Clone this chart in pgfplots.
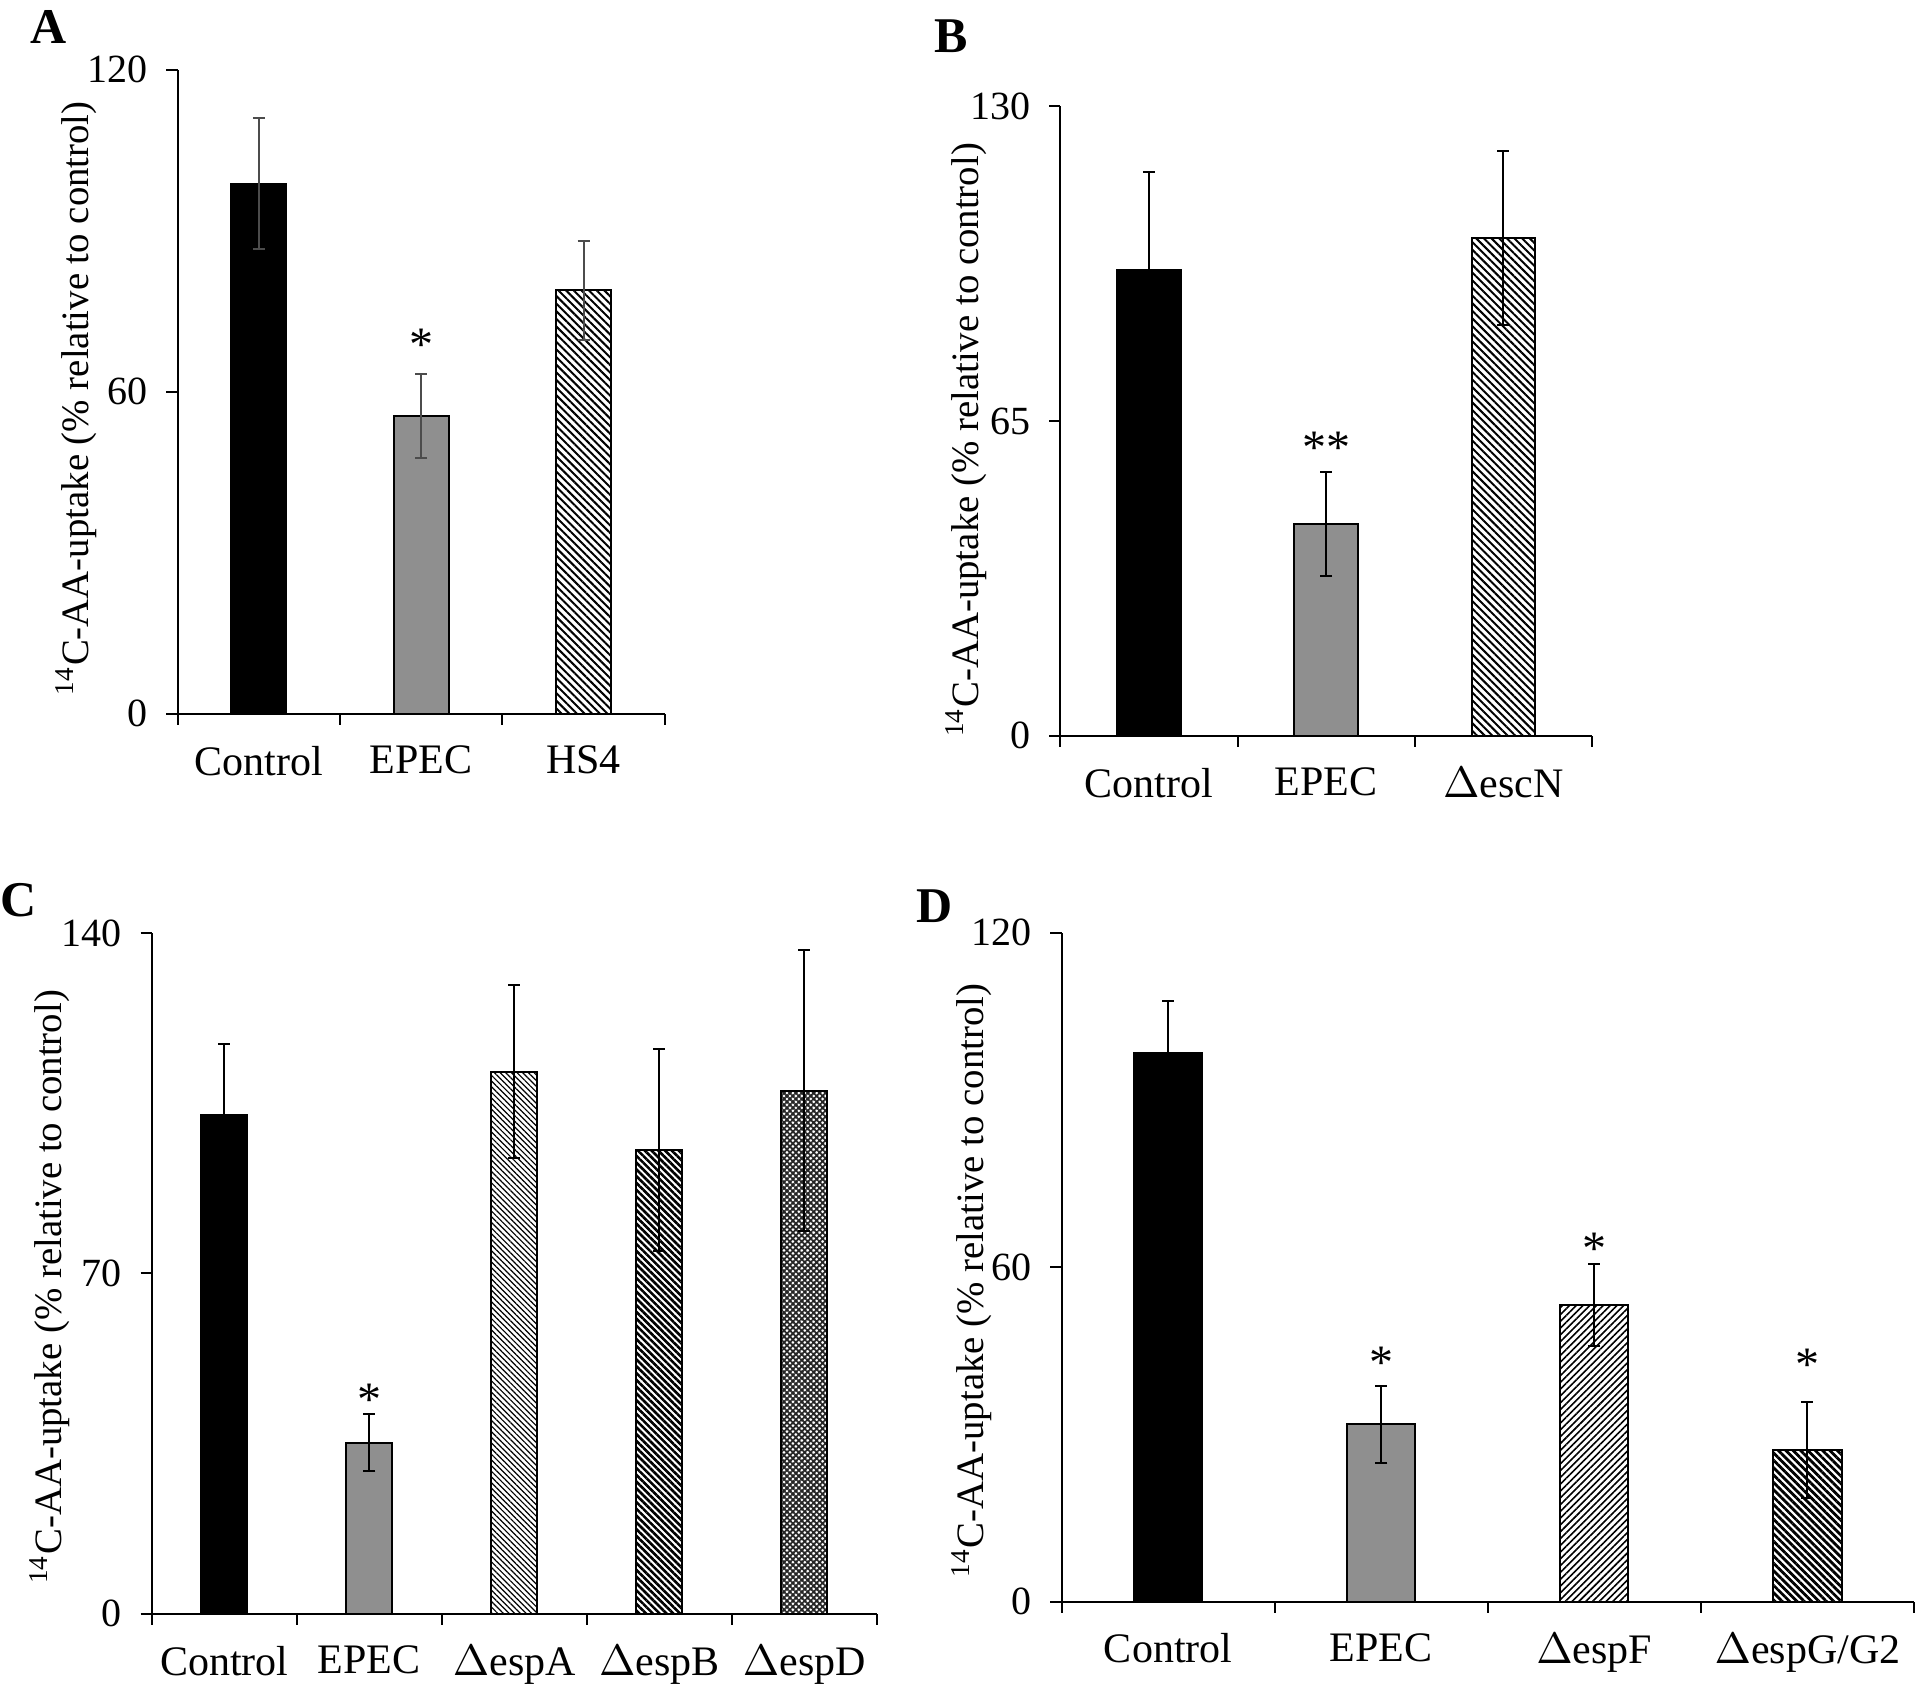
\documentclass[border=0pt]{standalone}
\usepackage{fontspec}
\setmainfont{Liberation Serif}
\usepackage{pgfplots}
\pgfplotsset{compat=1.18}
\usetikzlibrary{patterns.meta}
\definecolor{epec}{HTML}{8F8F8F}
\tikzset{sigstar/.style={font=\fontsize{12}{14}\selectfont, anchor=center, yshift=-1.5pt}}
\pgfplotsset{
  panel/.style={
    scale only axis,
    anchor=south west,
    ybar,
    bar shift=0pt,
    axis lines*=left,
    axis line style={line width=0.5pt},
    ymin=0,
    xticklabels={},
    tick align=outside,
    tick style={line width=0.5pt, black},
    major tick length=2.8pt,
    extra x tick style={major tick length=0pt, xtick style={draw=none},
       xticklabel style={font=\fontsize{10.5}{12}\selectfont, yshift=-4.5pt}},
    /pgf/number format/assume math mode=true,
    yticklabel style={font=\fontsize{10}{12}\selectfont, xshift=-1.2pt},
    ylabel style={font=\fontsize{9.7}{12}\selectfont},
    ylabel={\textsuperscript{14}C-AA-uptake (\% relative to control)},
    every axis plot/.append style={draw=black, line width=0.5pt},
    error bars/y dir=both,
    error bars/y explicit,
    error bars/error mark options={rotate=90, mark size=1.5pt, line width=0.5pt},
    error bars/error bar style={line width=0.5pt},
  },
}
\begin{document}
\begin{tikzpicture}[x=1pt,y=1pt]
\useasboundingbox (0,0) rectangle (480,421.75);
% Panel letters
\node[font=\bfseries\fontsize{12.5}{14}\selectfont] at (12.25,415) {A};
\node[font=\bfseries\fontsize{12.5}{14}\selectfont] at (237.9,412.6) {B};
\node[font=\bfseries\fontsize{12.5}{14}\selectfont] at (4.6,196.75) {C};
\node[font=\bfseries\fontsize{12.5}{14}\selectfont] at (233.6,195.25) {D};

% ---------------- A ----------------
\begin{axis}[panel, at={(44.4pt,243.3pt)}, width=121.8pt, height=161pt,
  xmin=-0.5, xmax=2.5, ymax=120, ytick={0,60,120},
  xtick={-0.5,0.5,1.5,2.5},
  extra x ticks={0,1,2},
  extra x tick labels={Control, EPEC, HS4},
  bar width=0.34,
  ylabel style={at={(axis description cs:0,0.49)}, anchor=center, yshift=25.4pt},
  error bars/error bar style={line width=0.5pt, draw=black!70},
  error bars/error mark options={rotate=90, mark size=1.5pt, line width=0.5pt, draw=black!70},
]
\addplot[fill=black] coordinates {(0,98.8) +- (0,12.2)};
\addplot[fill=epec] coordinates {(1,55.5) +- (0,7.8)};
\addplot[pattern={Lines[angle=-45,distance=1.35pt,line width=0.5pt]}, pattern color=black] coordinates {(2,78.9) +- (0,9.2)};
\node[sigstar] at (axis cs:1,69.8) {*};
\end{axis}

% ---------------- B ----------------
\begin{axis}[panel, at={(265.1pt,237.8pt)}, width=132.9pt, height=157.4pt,
  xmin=-0.5, xmax=2.5, ymax=130, ytick={0,65,130},
  xtick={-0.5,0.5,1.5,2.5},
  extra x ticks={0,1,2},
  extra x tick labels={Control, EPEC, $\Delta$escN},
  bar width=0.36,
  ylabel style={at={(axis description cs:0,0.47)}, anchor=center, yshift=23.5pt},
]
\addplot[fill=black] coordinates {(0,96.2) +- (0,20.3)};
\addplot[fill=epec] coordinates {(1,43.7) +- (0,10.7)};
\addplot[pattern={Lines[angle=-45,distance=1.35pt,line width=0.5pt]}, pattern color=black] coordinates {(2,102.8) +- (0,17.9)};
\node[sigstar] at (axis cs:1,60.7) {**};
\end{axis}

% ---------------- C ----------------
\begin{axis}[panel, at={(37.95pt,18.3pt)}, width=181.25pt, height=170.2pt,
  xmin=-0.5, xmax=4.5, ymax=140, ytick={0,70,140},
  xtick={-0.5,0.5,1.5,2.5,3.5,4.5},
  extra x ticks={0,1,2,3,4},
  extra x tick labels={Control, EPEC, $\Delta$espA, $\Delta$espB, $\Delta$espD},
  bar width=0.32,
  ylabel style={at={(axis description cs:0,0.48)}, anchor=center, yshift=25.5pt},
]
\addplot[fill=black] coordinates {(0,102.6) +- (0,14.5)};
\addplot[fill=epec] coordinates {(1,35.2) +- (0,5.9)};
\addplot[pattern={Lines[angle=-45,distance=1.0pt,line width=0.3pt]}, pattern color=black] coordinates {(2,111.5) +- (0,17.8)};
\addplot[pattern={Lines[angle=-45,distance=1.2pt,line width=0.65pt]}, pattern color=black] coordinates {(3,95.3) +- (0,20.8)};
\addplot[pattern={Hatch[angle=45,distance=1.05pt,line width=0.45pt]}, pattern color=black!85] coordinates {(4,107.6) +- (0,28.8)};
\node[sigstar] at (axis cs:1,45.3) {*};
\end{axis}

% ---------------- D ----------------
\begin{axis}[panel, at={(265.4pt,21.35pt)}, width=213.1pt, height=167.2pt,
  xmin=-0.5, xmax=3.5, ymax=120, ytick={0,60,120},
  xtick={-0.5,0.5,1.5,2.5,3.5},
  extra x ticks={0,1,2,3},
  extra x tick labels={Control, EPEC, $\Delta$espF, $\Delta$espG/G2},
  bar width=0.32,
  ylabel style={at={(axis description cs:0,0.48)}, anchor=center, yshift=22.5pt},
]
\addplot[fill=black] coordinates {(0,98.4) +- (0,9.4)};
\addplot[fill=epec] coordinates {(1,31.8) +- (0,6.9)};
\addplot[pattern={Lines[angle=45,distance=1.2pt,line width=0.4pt]}, pattern color=black] coordinates {(2,53.2) +- (0,7.4)};
\addplot[pattern={Lines[angle=-45,distance=1.3pt,line width=0.7pt]}, pattern color=black] coordinates {(3,27.2) +- (0,8.6)};
\node[sigstar] at (axis cs:1,44.0) {*};
\node[sigstar] at (axis cs:2,64.4) {*};
\node[sigstar] at (axis cs:3,43.5) {*};
\end{axis}
\end{tikzpicture}
\end{document}
